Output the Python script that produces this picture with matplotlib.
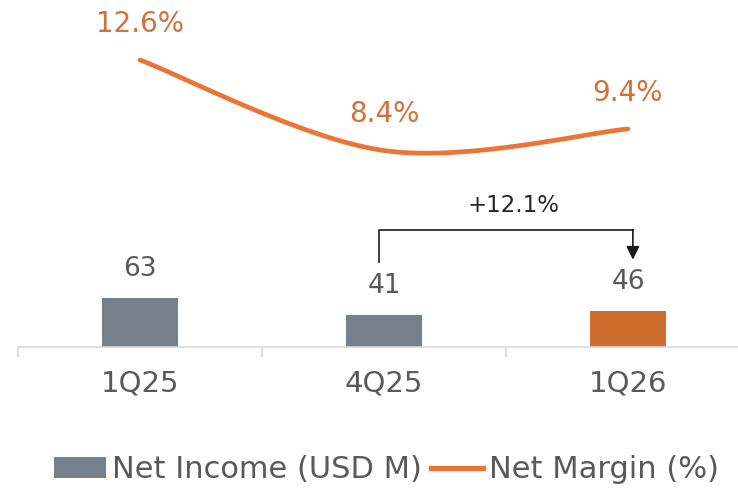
import numpy as np
import matplotlib
matplotlib.use("Agg")
import matplotlib.pyplot as plt
from matplotlib.patches import Patch
from matplotlib.lines import Line2D

# data
quarters = ["1Q25", "4Q25", "1Q26"]
net_income = [63, 41, 46]
net_margin = [12.6, 8.4, 9.4]
change_label = "+12.1%"

GRAY = "#75808A"
ORANGE_BAR = "#CD6E2F"
ORANGE_LINE = "#EA7535"
ORANGE_TXT = "#D2713A"
TEXT = "#595959"

plt.rcParams['font.family'] = ['DejaVu Sans']


def smooth_curve(xs, ys, n=60):
    # Excel-like smoothed line: cubic bezier with catmull-rom control points
    pts = np.column_stack([xs, ys]).astype(float)
    out = []
    for i in range(len(pts) - 1):
        p0 = pts[max(i - 1, 0)]
        p1 = pts[i]
        p2 = pts[i + 1]
        p3 = pts[min(i + 2, len(pts) - 1)]
        c1 = p1 + (p2 - p0) / 6.0
        c2 = p2 - (p3 - p1) / 6.0
        t = np.linspace(0, 1, n)[:, None]
        seg = ((1 - t) ** 3) * p1 + 3 * ((1 - t) ** 2) * t * c1 + 3 * (1 - t) * t ** 2 * c2 + t ** 3 * p2
        out.append(seg if i == 0 else seg[1:])
    seg = np.vstack(out)
    return seg[:, 0], seg[:, 1]


fig = plt.figure(figsize=(7.38, 4.9), dpi=100)
ax = fig.add_axes([18 / 738, 1 - 347 / 490, 732 / 738, 347 / 490])
x = np.arange(len(quarters))

bar_colors = [GRAY, GRAY, ORANGE_BAR]
ax.bar(x, net_income, width=0.315, color=bar_colors, zorder=2)
ax.set_xlim(-0.5, 2.5)
ax.set_ylim(0, 445)

for xi, v in zip(x, net_income):
    ax.annotate(f"{v}", (xi, v), xytext=(0, 21), textcoords="offset points",
                ha="center", va="center", fontsize=19, color=TEXT)

# axis styling
for s in ["top", "right", "left"]:
    ax.spines[s].set_visible(False)
ax.spines["bottom"].set_color("#D9D9D9")
ax.spines["bottom"].set_linewidth(1.2)
ax.set_yticks([])
ax.set_xticks([-0.5, 0.5, 1.5, 2.5])
ax.set_xticklabels([])
ax.tick_params(axis="x", length=7, color="#D9D9D9", width=1.2)
for xi, q in zip(x, quarters):
    ax.text(xi, -0.105, q, transform=ax.get_xaxis_transform(), ha="center",
            va="center", fontsize=21, color=TEXT)

# bracket with arrow between 4Q25 and 1Q26
ax.plot([0.98, 0.98, 2.02], [109, 150, 150], color="#1a1a1a", lw=1.2, zorder=3)
ax.annotate("", xy=(2.02, 112), xytext=(2.02, 150.6),
            arrowprops=dict(arrowstyle="-|>", color="#1a1a1a", lw=1.2,
                            mutation_scale=20, shrinkA=0, shrinkB=0))
ax.text(1.53, 182, change_label, ha="center", va="center", fontsize=16.5, color="#262626")

# net margin line on secondary axis
ax2 = ax.twinx()
ax2.set_ylim(-0.71, 15.38)
ax2.axis("off")
sx, sy = smooth_curve(x, net_margin)
ax2.plot(sx, sy, color=ORANGE_LINE, lw=3.4, solid_capstyle="round", zorder=3)
for xi, v in zip(x, net_margin):
    ax2.annotate(f"{v}%", (xi, v), xytext=(0, 26), textcoords="offset points",
                 ha="center", va="center", fontsize=20, color=ORANGE_TXT)

handles = [Patch(facecolor=GRAY, label="Net Income (USD M)"),
           Line2D([0], [0], color=ORANGE_LINE, lw=3.8, label="Net Margin (%)")]
fig.legend(handles=handles, loc="center", bbox_to_anchor=(0.524, 0.041), ncol=2,
           frameon=False, fontsize=22, handlelength=1.7, handletextpad=0.2,
           columnspacing=0.3, labelcolor=TEXT)

fig.savefig("out.png", dpi=100)
